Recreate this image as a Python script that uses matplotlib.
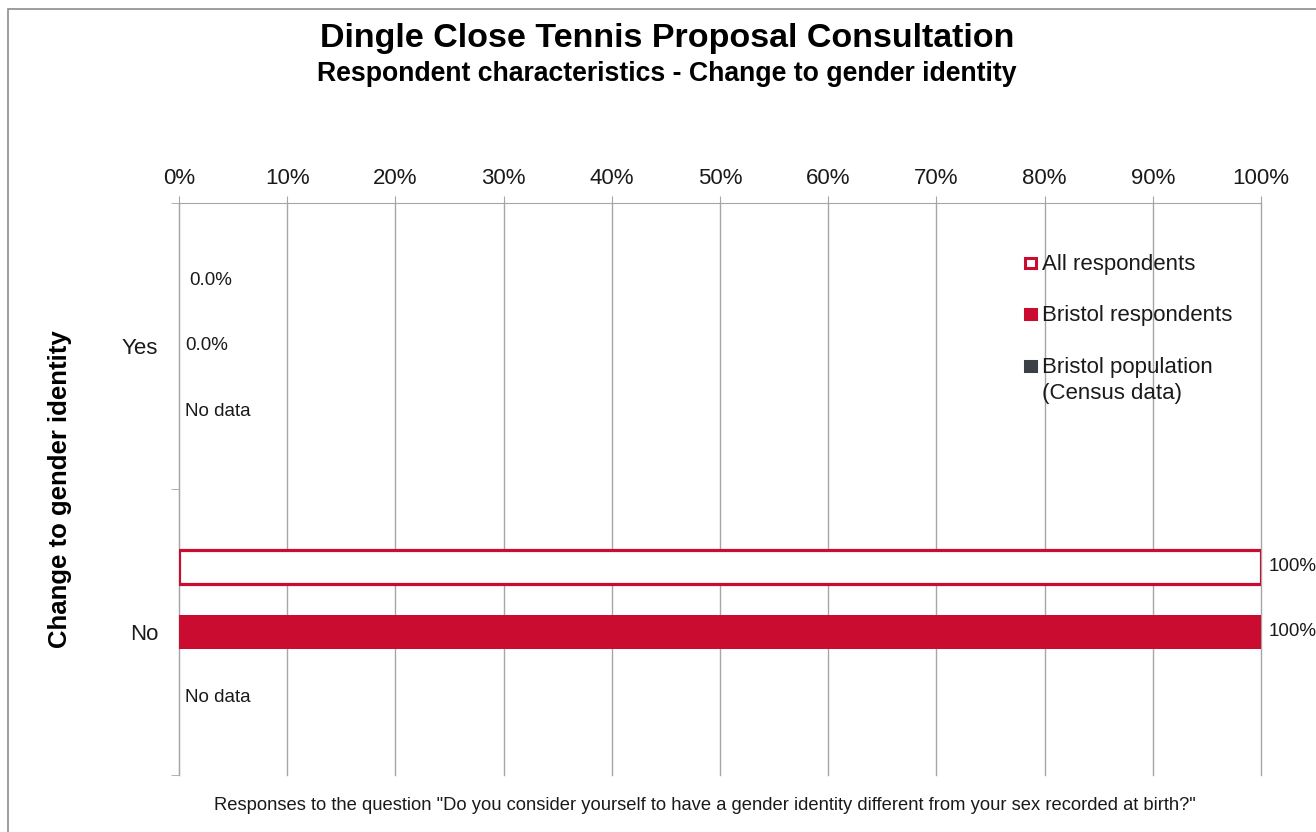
import numpy as np
import matplotlib
matplotlib.use('Agg')
from matplotlib import pyplot as plt
from matplotlib.patches import Rectangle

plt.rcParams['font.family'] = ['Liberation Sans', 'DejaVu Sans']

## Donnees
categories = ['Yes', 'No']
series_names = ['All respondents', 'Bristol respondents', 'Bristol population\n(Census data)']
all_resp = [0.0, 100.0]
bristol_resp = [0.0, 100.0]
census = [None, None]  # pas de donnees census
xticks = np.arange(0, 101, 10)

red = '#C90C2F'
dark = '#3B3F46'
grid_col = '#A6A6A6'
txt = '#1A1A1A'

fig = plt.figure(figsize=(13.16, 8.32), dpi=100)
ax = fig.add_axes([179/1316, 1-775/832, 1082/1316, 572/832])

# cadre gris autour de la figure
fig.patches.append(Rectangle((8/1316, -0.05), 1.1, 1 - 9/832 + 0.05, transform=fig.transFigure,
                             fill=False, edgecolor='#8C8C8C', linewidth=1.2))

y = np.arange(len(categories))
step = 0.228
h = 0.118
series = [all_resp, bristol_resp, census]

for i, vals in enumerate(series):
    pos = y + (i - 1) * step
    for p, v in zip(pos, vals):
        if v is None:
            ax.annotate('No data', (0, p), xytext=(4.3, 0), textcoords='offset points',
                        va='center', ha='left', fontsize=13.5, color=txt)
            continue
        if i == 0:
            ax.barh(p, v, height=h, color='white', edgecolor=red,
                    linewidth=2.3 if v > 0 else 0, zorder=3)
        else:
            ax.barh(p, v, height=h, color=red, linewidth=0, zorder=3)
        lab = '100%' if v == 100 else '%.1f%%' % v
        if v == 0:
            off = 7.2 if i == 0 else 4.3
        else:
            off = 5.8
        ax.annotate(lab, (v, p), xytext=(off, 0), textcoords='offset points',
                    va='center', ha='left', fontsize=13.5, color=txt)

ax.set_xlim(0, 100)
ax.set_ylim(1.5, -0.5)
ax.xaxis.tick_top()
ax.set_xticks(xticks)
ax.set_xticklabels(['%d%%' % t for t in xticks], fontsize=16, color=txt)
ax.tick_params(axis='x', length=5, color=grid_col, pad=5)
ax.set_yticks(y)
ax.set_yticklabels(categories, fontsize=16, color=txt)
ax.set_yticks([-0.5, 0.5, 1.5], minor=True)
ax.tick_params(axis='y', which='major', length=0, pad=15)
ax.tick_params(axis='y', which='minor', length=6, color=grid_col)
ax.grid(axis='x', color=grid_col, linewidth=1, zorder=0)
for gl in ax.get_xgridlines():
    gl.set_clip_on(False)
ax.set_axisbelow(True)
for s in ['right', 'bottom']:
    ax.spines[s].set_visible(False)
for s in ['left', 'top']:
    ax.spines[s].set_color(grid_col)

ax.set_ylabel('Change to gender identity', fontsize=18.5, fontweight='bold', color='black')
ax.yaxis.set_label_coords(-0.099, 0.5)

# legende
leg_y = [0.895, 0.806, 0.715]
leg_fc = ['white', red, dark]
for name, ly, fc in zip(series_names, leg_y, leg_fc):
    ax.add_patch(Rectangle((0.7815, ly - 0.0095), 0.0102, 0.019, transform=ax.transAxes,
                           facecolor=fc, edgecolor=red if fc == 'white' else fc,
                           linewidth=2.2, clip_on=False, zorder=5))
    ax.text(0.7976, ly + 0.0165, name, transform=ax.transAxes, ha='left', va='top',
            fontsize=16, color=txt, linespacing=1.32)

fig.text(667/1316, 1-38/832, 'Dingle Close Tennis Proposal Consultation',
         ha='center', va='center', fontsize=24.5, fontweight='bold')
fig.text(667/1316, 1-74/832, 'Respondent characteristics - Change to gender identity',
         ha='center', va='center', fontsize=19.2, fontweight='bold')
fig.text(705/1316, 1-806/832,
         'Responses to the question "Do you consider yourself to have a gender identity different from your sex recorded at birth?"',
         ha='center', va='center', fontsize=13.2, color=txt)

plt.savefig('out.png', dpi=100)
plt.close()
